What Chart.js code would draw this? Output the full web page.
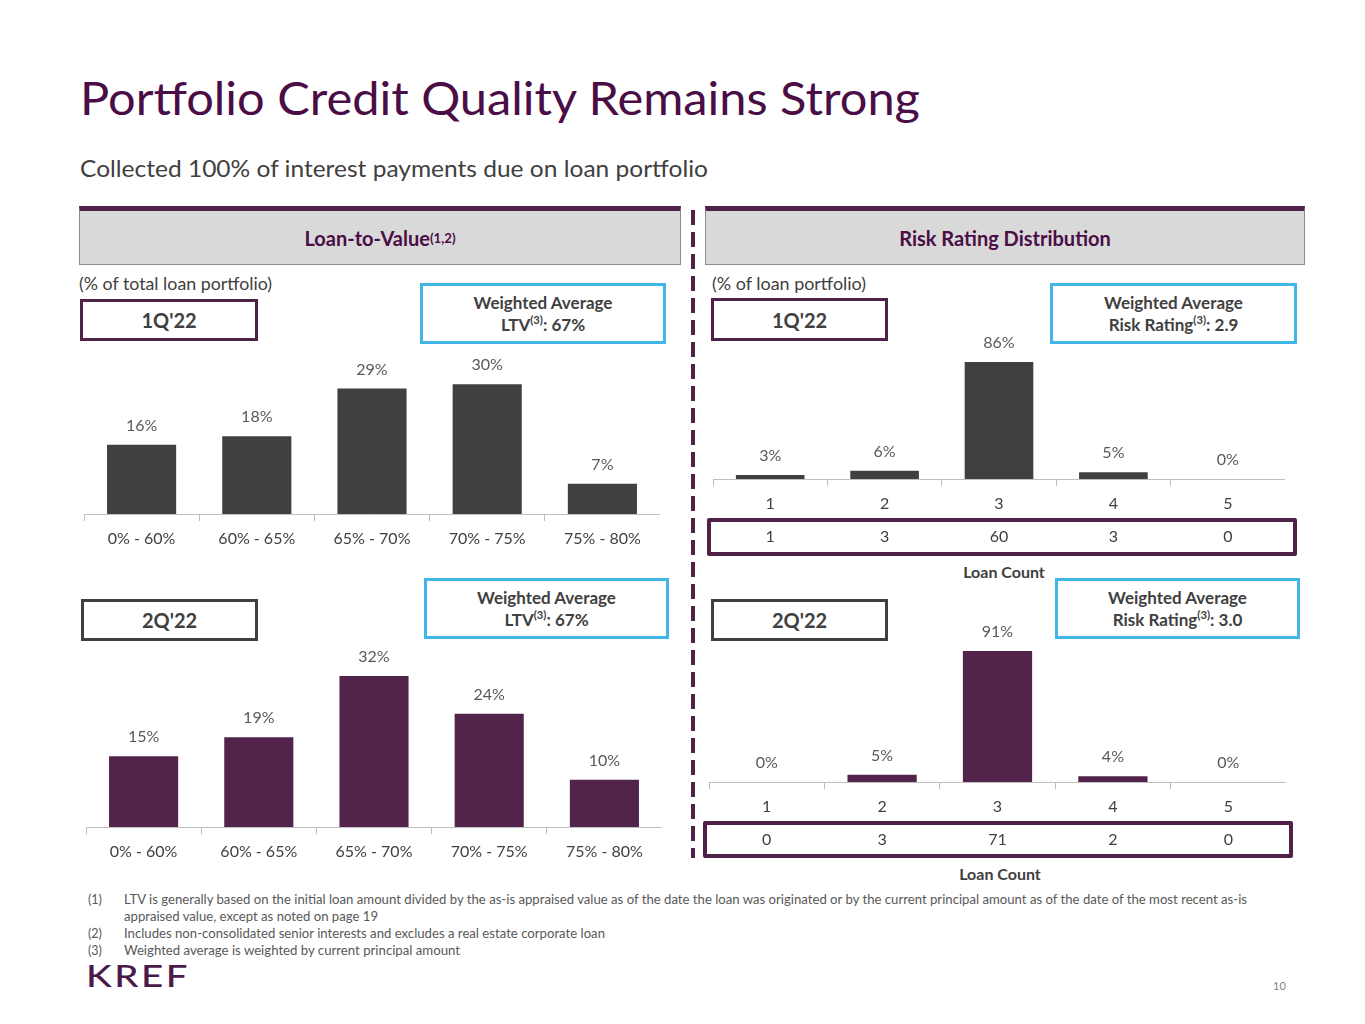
<!DOCTYPE html>
<html>
<head>
<meta charset="utf-8">
<script src="https://cdn.jsdelivr.net/npm/chart.js@4.4.1/dist/chart.umd.min.js"></script>
<style>
  body { margin: 0; width: 1365px; height: 1024px; background: #fff; position: relative; overflow: hidden;
         font-family: Lato, "Open Sans", sans-serif; color: #404040; }
  .t { position: absolute; white-space: nowrap; line-height: 1; transform-origin: left top; }
  .box { position: absolute; box-sizing: border-box; display: flex; flex-direction: column;
         align-items: center; justify-content: center; font-weight: 700; color: #404040; }
  .head { position: absolute; box-sizing: border-box; background: #d9d9d9; border: 1px solid #8c8c8c;
          border-top: 5px solid #4f2148; display: flex; align-items: center; justify-content: center;
          font-weight: 700; font-size: 20px; color: #4a0d46; }
  .q { border: 3px solid #4f2148; font-size: 20px; }
  .q.grey { border-color: #404040; }
  .wa { border: 3px solid #41b6e6; font-size: 17px; line-height: 22px; }
  .cnt { border: 4px solid #4f2148; border-radius: 2px; }
  sup { font-size: 0.66em; vertical-align: 0.6em; line-height: 0; }
  .chart { position: absolute; }
  .foot { font-size: 12.5px; color: #595959; }
</style>
</head>
<body>

<div class="t" data-w="840" style="left:80px;top:74px;font-size:47px;color:#4a0d46">Portfolio Credit Quality Remains Strong</div>
<div class="t" data-w="628" style="left:80px;top:157px;font-size:23px;color:#404040">Collected 100% of interest payments due on loan portfolio</div>

<div class="head" style="left:79px;top:206px;width:602px;height:59px">Loan-to-Value<sup>(1,2)</sup></div>
<div class="head" style="left:705px;top:206px;width:600px;height:59px">Risk Rating Distribution</div>

<div style="position:absolute;left:691px;top:210px;width:4px;height:648px;
  background:repeating-linear-gradient(to bottom,#4f2148 0 15px,transparent 15px 22px)"></div>

<div class="t" data-w="193" style="left:79px;top:275px;font-size:17px">(% of total loan portfolio)</div>
<div class="t" data-w="154" style="left:712px;top:275px;font-size:17px">(% of loan portfolio)</div>

<div class="box q" style="left:80px;top:299px;width:178px;height:42px">1Q'22</div>
<div class="box wa" style="left:420px;top:283px;width:246px;height:61px"><div>Weighted Average</div><div>LTV<sup>(3)</sup>: 67%</div></div>
<div class="box q grey" style="left:81px;top:599px;width:177px;height:42px">2Q'22</div>
<div class="box wa" style="left:424px;top:578px;width:245px;height:61px"><div>Weighted Average</div><div>LTV<sup>(3)</sup>: 67%</div></div>

<div class="box q" style="left:711px;top:298px;width:177px;height:43px">1Q'22</div>
<div class="box wa" style="left:1050px;top:283px;width:247px;height:61px"><div>Weighted Average</div><div>Risk Rating<sup>(3)</sup>: 2.9</div></div>
<div class="box q grey" style="left:711px;top:599px;width:177px;height:42px">2Q'22</div>
<div class="box wa" style="left:1055px;top:578px;width:245px;height:61px"><div>Weighted Average</div><div>Risk Rating<sup>(3)</sup>: 3.0</div></div>

<div class="box cnt" style="left:707px;top:518px;width:590px;height:38px"></div>
<div class="box cnt" style="left:703px;top:821px;width:590px;height:37px"></div>
<div class="t" style="left:904px;top:564px;width:200px;text-align:center;font-size:16px;font-weight:700">Loan Count</div>
<div class="t" style="left:900px;top:866px;width:200px;text-align:center;font-size:16px;font-weight:700">Loan Count</div>

<div class="chart" style="left:84px;top:311px;width:576px;height:237px"><canvas id="ltv1"></canvas></div>
<div class="chart" style="left:86px;top:627px;width:576px;height:234px"><canvas id="ltv2"></canvas></div>
<div class="chart" style="left:713px;top:313px;width:572px;height:250px"><canvas id="risk1"></canvas></div>
<div class="chart" style="left:709px;top:608px;width:577px;height:258px"><canvas id="risk2"></canvas></div>

<div class="t foot" style="left:88px;top:894px">(1)</div>
<div class="t foot" data-w="1123" style="left:124px;top:894px">LTV is generally based on the initial loan amount divided by the as-is appraised value as of the date the loan was originated or by the current principal amount as of the date of the most recent as-is</div>
<div class="t foot" data-w="254" style="left:124px;top:911px">appraised value, except as noted on page 19</div>
<div class="t foot" style="left:88px;top:928px">(2)</div>
<div class="t foot" data-w="481" style="left:124px;top:928px">Includes non-consolidated senior interests and excludes a real estate corporate loan</div>
<div class="t foot" style="left:88px;top:945px">(3)</div>
<div class="t foot" data-w="336" style="left:124px;top:945px">Weighted average is weighted by current principal amount</div>

<div class="t" data-w="104" style="left:86px;top:960px;font-size:30px;font-weight:500;letter-spacing:2px;color:#4a1a4b">KREF</div>
<div class="t" style="left:1273px;top:980px;font-size:11px;color:#7f7f7f">10</div>

<script>
// Loan-to-value buckets, % of total loan portfolio
const LTV_CATEGORIES = ["0% - 60%", "60% - 65%", "65% - 70%", "70% - 75%", "75% - 80%"];
const LTV_1Q = [16, 18, 29, 30, 7];
const LTV_2Q = [15, 19, 32, 24, 10];

// Risk ratings 1-5, % of loan portfolio and loan count
const RISK_CATEGORIES = ["1", "2", "3", "4", "5"];
const RISK_1Q = [3, 6, 86, 5, 0];
const RISK_2Q = [0, 5, 91, 4, 0];
const COUNT_1Q = [1, 3, 60, 3, 0];
const COUNT_2Q = [0, 3, 71, 2, 0];

const DARK = "#404040";
const PURPLE = "#52244b";

// stretch long texts to the widths they have on the slide
document.querySelectorAll("[data-w]").forEach((el) => {
  const w = el.getBoundingClientRect().width;
  el.style.transform = `scaleX(${el.dataset.w / w})`;
});

/**
 * Value labels above each bar, plus an optional loan-count row under the axis.
 */
function labelPlugin(counts) {
  return {
    id: "valueLabels",
    afterDatasetsDraw(chart) {
      const ctx = chart.ctx;
      const values = chart.data.datasets[0].data;
      ctx.save();
      ctx.font = "16px Lato";
      ctx.textAlign = "center";
      ctx.textBaseline = "middle";
      ctx.fillStyle = "#595959";
      chart.getDatasetMeta(0).data.forEach((bar, i) => {
        ctx.fillText(values[i] + "%", bar.x, bar.y - 19);
      });
      if (counts) {
        ctx.fillStyle = DARK;
        counts.forEach((c, i) => {
          ctx.fillText(String(c), chart.scales.x.getPixelForValue(i), chart.chartArea.bottom + 58);
        });
      }
      ctx.restore();
    },
  };
}

function makeChart(id, labels, values, color, yMax, counts) {
  new Chart(document.getElementById(id), {
    type: "bar",
    data: {
      labels: labels,
      datasets: [{ data: values, backgroundColor: color, barPercentage: 0.6, categoryPercentage: 1 }],
    },
    options: {
      responsive: true,
      maintainAspectRatio: false,
      animation: false,
      layout: { padding: { top: 30, bottom: counts ? 50 : 0, left: 0, right: 0 } },
      plugins: { legend: { display: false }, tooltip: { enabled: false } },
      scales: {
        x: {
          offset: true,
          grid: { display: true, offset: true, drawOnChartArea: false, drawTicks: true, tickLength: 7, color: "#bfbfbf" },
          border: { display: true, color: "#bfbfbf" },
          ticks: { color: DARK, font: { family: "Lato", size: 16 }, padding: 8, maxRotation: 0, autoSkip: false },
          afterFit(scale) { scale.height = 34; },
        },
        y: { display: false, min: 0, max: yMax },
      },
    },
    plugins: [labelPlugin(counts)],
  });
}

makeChart("ltv1", LTV_CATEGORIES, LTV_1Q, DARK, 40);
makeChart("ltv2", LTV_CATEGORIES, LTV_2Q, PURPLE, 36);
makeChart("risk1", RISK_CATEGORIES, RISK_1Q, DARK, 100, COUNT_1Q);
makeChart("risk2", RISK_CATEGORIES, RISK_2Q, PURPLE, 100, COUNT_2Q);
</script>
</body>
</html>
